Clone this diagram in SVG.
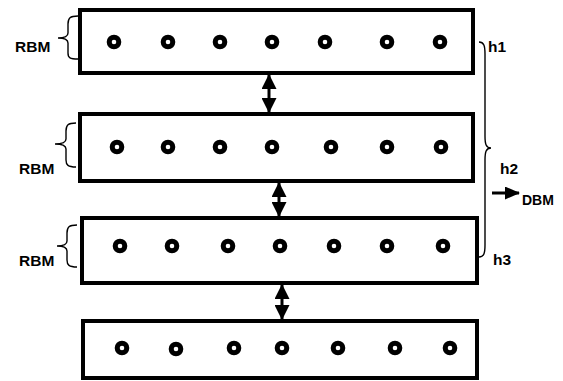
<svg xmlns="http://www.w3.org/2000/svg" width="563" height="381" viewBox="0 0 563 381">
  <style>
    .layer { fill: #fff; stroke: #000; stroke-width: 4; }
    .unit { fill: #fff; stroke: #000; stroke-width: 5; }
    .brace { fill: none; stroke: #000; stroke-width: 1.4; }
    .lbl { font-family: "Liberation Sans", Arial, sans-serif; font-weight: bold; fill: #000; }
    .link { stroke: #000; stroke-width: 3; fill: none; }
  </style>
  <defs>
    <marker id="head" viewBox="0 0 15 15" refX="14" refY="7.5" markerWidth="15" markerHeight="15" orient="auto-start-reverse" markerUnits="userSpaceOnUse">
      <path d="M0,0 L15,7.5 L0,15 Z" fill="#000"/>
    </marker>
    <marker id="headSmall" viewBox="0 0 15 13" refX="14" refY="6.5" markerWidth="15" markerHeight="13" orient="auto" markerUnits="userSpaceOnUse">
      <path d="M0,0 L15,6.5 L0,13 Z" fill="#000"/>
    </marker>
  </defs>

  <g id="layer1">
    <rect class="layer" x="80" y="10" width="393" height="63"/>
    <circle class="unit" cx="114" cy="42" r="4.8"/>
    <circle class="unit" cx="168" cy="42" r="4.8"/>
    <circle class="unit" cx="220" cy="42" r="4.8"/>
    <circle class="unit" cx="272" cy="42" r="4.8"/>
    <circle class="unit" cx="325" cy="42" r="4.8"/>
    <circle class="unit" cx="387" cy="42" r="4.8"/>
    <circle class="unit" cx="440" cy="42" r="4.8"/>
  </g>

  <g id="layer2">
    <rect class="layer" x="80" y="114" width="393" height="67"/>
    <circle class="unit" cx="117" cy="147" r="4.8"/>
    <circle class="unit" cx="168" cy="147" r="4.8"/>
    <circle class="unit" cx="220" cy="147" r="4.8"/>
    <circle class="unit" cx="272" cy="147" r="4.8"/>
    <circle class="unit" cx="331" cy="147" r="4.8"/>
    <circle class="unit" cx="387" cy="147" r="4.8"/>
    <circle class="unit" cx="441" cy="147" r="4.8"/>
  </g>

  <g id="layer3">
    <rect class="layer" x="82" y="218" width="395" height="65"/>
    <circle class="unit" cx="120" cy="246" r="4.8"/>
    <circle class="unit" cx="172" cy="246" r="4.8"/>
    <circle class="unit" cx="228" cy="246" r="4.8"/>
    <circle class="unit" cx="280" cy="246" r="4.8"/>
    <circle class="unit" cx="334" cy="246" r="4.8"/>
    <circle class="unit" cx="387" cy="246" r="4.8"/>
    <circle class="unit" cx="443" cy="246" r="4.8"/>
  </g>

  <g id="layer4">
    <rect class="layer" x="83" y="321" width="394" height="57"/>
    <circle class="unit" cx="122" cy="348" r="4.8"/>
    <circle class="unit" cx="176" cy="349" r="4.8"/>
    <circle class="unit" cx="234" cy="348" r="4.8"/>
    <circle class="unit" cx="282" cy="348" r="4.8"/>
    <circle class="unit" cx="338" cy="348" r="4.8"/>
    <circle class="unit" cx="395" cy="348" r="4.8"/>
    <circle class="unit" cx="450" cy="348" r="4.8"/>
  </g>

  <g id="connectors">
    <line class="link" x1="269" y1="75" x2="269" y2="112" marker-start="url(#head)" marker-end="url(#head)"/>
    <line class="link" x1="279" y1="183" x2="279" y2="216" marker-start="url(#head)" marker-end="url(#head)"/>
    <line class="link" x1="282" y1="285" x2="282" y2="319" marker-start="url(#head)" marker-end="url(#head)"/>
    <line class="link" x1="492" y1="193" x2="519" y2="193" stroke-width="2.4" marker-end="url(#headSmall)"/>
  </g>

  <g id="rbm1">
    <path class="brace" d="M78,16 C70,16 68,18 68,24 L68,33 C68,37 64,38 58,38 C64,38 68,39 68,43 L68,53 C68,58 70,59 78,59"/>
    <text class="lbl" x="15" y="52" font-size="15.5">RBM</text>
  </g>
  <g id="rbm2">
    <path class="brace" d="M76,123 C68,123 66,125 66,131 L66,139 C66,143 62,144 55,144 C62,144 66,145 66,149 L66,160 C66,165 68,167 76,167"/>
    <text class="lbl" x="19" y="174" font-size="15.5">RBM</text>
  </g>
  <g id="rbm3">
    <path class="brace" d="M77,225 C69,225 67,227 67,233 L67,241 C67,245 63,246 57,246 C63,246 67,247 67,251 L67,260 C67,265 69,267 77,267"/>
    <text class="lbl" x="19" y="266" font-size="15.5">RBM</text>
  </g>

  <g id="dbm">
    <path class="brace" d="M479,42 C484,42 485,46 485,54 L485,136 C485,144 486,148 491,148 C486,148 485,152 485,160 L485,245 C485,253 484,257 479,257"/>
    <text class="lbl" x="488" y="52" font-size="15.5">h1</text>
    <text class="lbl" x="500" y="174" font-size="15.5">h2</text>
    <text class="lbl" x="493" y="265" font-size="15.5">h3</text>
    <text class="lbl" x="522" y="205" font-size="14">DBM</text>
  </g>
</svg>
